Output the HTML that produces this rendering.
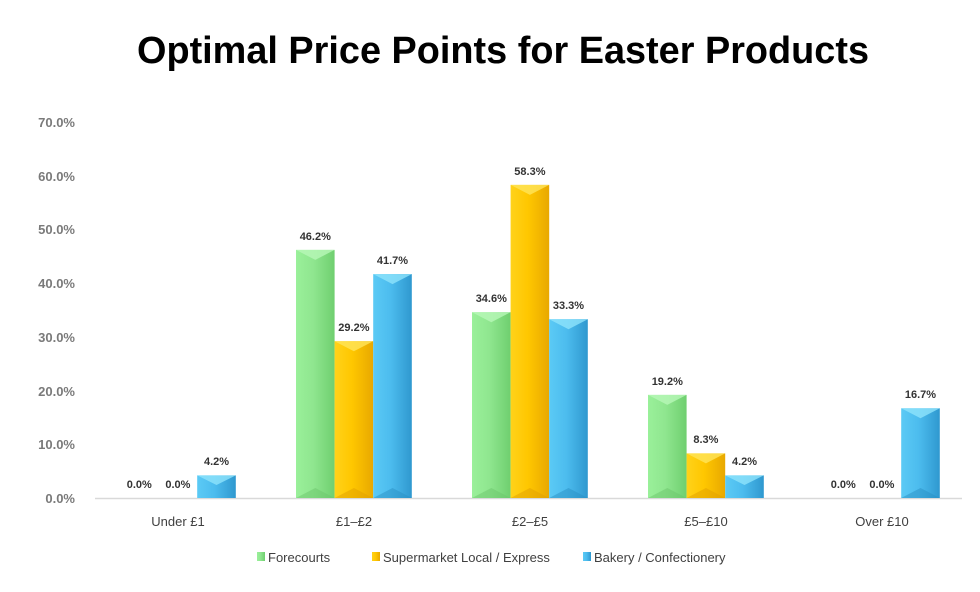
<!DOCTYPE html>
<html><head><meta charset="utf-8"><style>
body{margin:0;background:#fff;}
svg{display:block;font-family:"Liberation Sans",sans-serif;}
</style></head><body>
<svg width="980" height="592" viewBox="0 0 980 592" xmlns="http://www.w3.org/2000/svg">
<defs>
<linearGradient id="gG" x1="0" x2="1"><stop offset="0" stop-color="#9af09a"/><stop offset="0.45" stop-color="#8fe68f"/><stop offset="1" stop-color="#6fcf6f"/></linearGradient>
<linearGradient id="gY" x1="0" x2="1"><stop offset="0" stop-color="#ffd21a"/><stop offset="0.45" stop-color="#ffc700"/><stop offset="1" stop-color="#e8a800"/></linearGradient>
<linearGradient id="gB" x1="0" x2="1"><stop offset="0" stop-color="#5bcaf5"/><stop offset="0.45" stop-color="#4cbcee"/><stop offset="1" stop-color="#2f98cf"/></linearGradient>
</defs>
<text x="503" y="63" text-anchor="middle" font-size="38" font-weight="bold" fill="#000" textLength="732" lengthAdjust="spacingAndGlyphs">Optimal Price Points for Easter Products</text>
<g font-size="13" fill="#7a7a7a" text-anchor="end" font-weight="bold">
<text x="75" y="127">70.0%</text><text x="75" y="181">60.0%</text><text x="75" y="234">50.0%</text><text x="75" y="288">40.0%</text><text x="75" y="342">30.0%</text><text x="75" y="396">20.0%</text><text x="75" y="449">10.0%</text><text x="75" y="503">0.0%</text>
</g>
<line x1="95" y1="498.5" x2="962" y2="498.5" stroke="#d9d9d9" stroke-width="1.5"/>

<!-- bars -->
<g>
<rect x="197.2" y="475.4" width="38.6" height="22.6" fill="url(#gB)"/><polygon points="197.2,475.4 235.8,475.4 216.5,485" fill="#8ee3fb" opacity="0.8"/>

<rect x="296" y="249.9" width="38.6" height="248.1" fill="url(#gG)"/><polygon points="296,249.9 334.6,249.9 315.3,259.9" fill="#b8f7b8" opacity="0.8"/><polygon points="296,498 334.6,498 315.3,488" fill="#6cc56c" opacity="0.5"/>
<rect x="334.6" y="341.2" width="38.6" height="156.8" fill="url(#gY)"/><polygon points="334.6,341.2 373.2,341.2 353.9,351.2" fill="#ffe55a" opacity="0.8"/><polygon points="334.6,498 373.2,498 353.9,488" fill="#e0a000" opacity="0.5"/>
<rect x="373.2" y="274.1" width="38.6" height="223.9" fill="url(#gB)"/><polygon points="373.2,274.1 411.8,274.1 392.5,284.1" fill="#8ee3fb" opacity="0.8"/><polygon points="373.2,498 411.8,498 392.5,488" fill="#2a8fc4" opacity="0.5"/>

<rect x="472" y="312.2" width="38.6" height="185.8" fill="url(#gG)"/><polygon points="472,312.2 510.6,312.2 491.3,322.2" fill="#b8f7b8" opacity="0.8"/><polygon points="472,498 510.6,498 491.3,488" fill="#6cc56c" opacity="0.5"/>
<rect x="510.6" y="184.9" width="38.6" height="313.1" fill="url(#gY)"/><polygon points="510.6,184.9 549.2,184.9 529.9,194.9" fill="#ffe55a" opacity="0.8"/><polygon points="510.6,498 549.2,498 529.9,488" fill="#e0a000" opacity="0.5"/>
<rect x="549.2" y="319.2" width="38.6" height="178.8" fill="url(#gB)"/><polygon points="549.2,319.2 587.8,319.2 568.5,329.2" fill="#8ee3fb" opacity="0.8"/><polygon points="549.2,498 587.8,498 568.5,488" fill="#2a8fc4" opacity="0.5"/>

<rect x="648" y="394.9" width="38.6" height="103.1" fill="url(#gG)"/><polygon points="648,394.9 686.6,394.9 667.3,404.9" fill="#b8f7b8" opacity="0.8"/><polygon points="648,498 686.6,498 667.3,488" fill="#6cc56c" opacity="0.5"/>
<rect x="686.6" y="453.4" width="38.6" height="44.6" fill="url(#gY)"/><polygon points="686.6,453.4 725.2,453.4 705.9,463.4" fill="#ffe55a" opacity="0.8"/><polygon points="686.6,498 725.2,498 705.9,488" fill="#e0a000" opacity="0.5"/>
<rect x="725.2" y="475.4" width="38.6" height="22.6" fill="url(#gB)"/><polygon points="725.2,475.4 763.8,475.4 744.5,485" fill="#8ee3fb" opacity="0.8"/>

<rect x="901.2" y="408.3" width="38.6" height="89.7" fill="url(#gB)"/><polygon points="901.2,408.3 939.8,408.3 920.5,418.3" fill="#8ee3fb" opacity="0.8"/><polygon points="901.2,498 939.8,498 920.5,488" fill="#2a8fc4" opacity="0.5"/>
</g>

<g font-size="11" font-weight="bold" fill="#333" text-anchor="middle">
<text x="139.3" y="488">0.0%</text><text x="177.9" y="488">0.0%</text><text x="216.5" y="465">4.2%</text>
<text x="315.3" y="240">46.2%</text><text x="353.9" y="331">29.2%</text><text x="392.5" y="264">41.7%</text>
<text x="491.3" y="302">34.6%</text><text x="529.9" y="175">58.3%</text><text x="568.5" y="309">33.3%</text>
<text x="667.3" y="385">19.2%</text><text x="705.9" y="443">8.3%</text><text x="744.5" y="465">4.2%</text>
<text x="843.3" y="488">0.0%</text><text x="881.9" y="488">0.0%</text><text x="920.5" y="398">16.7%</text>
</g>

<g font-size="13" fill="#404040" text-anchor="middle">
<text x="178" y="526">Under £1</text><text x="354" y="526">£1–£2</text><text x="530" y="526">£2–£5</text><text x="706" y="526">£5–£10</text><text x="882" y="526">Over £10</text>
</g>
<g font-size="13" fill="#404040">
<rect x="257" y="552" width="8" height="9" fill="url(#gG)"/><text x="268" y="562">Forecourts</text>
<rect x="372" y="552" width="8" height="9" fill="url(#gY)"/><text x="383" y="562">Supermarket Local / Express</text>
<rect x="583" y="552" width="8" height="9" fill="url(#gB)"/><text x="594" y="562">Bakery / Confectionery</text>
</g>
</svg>
</body></html>
